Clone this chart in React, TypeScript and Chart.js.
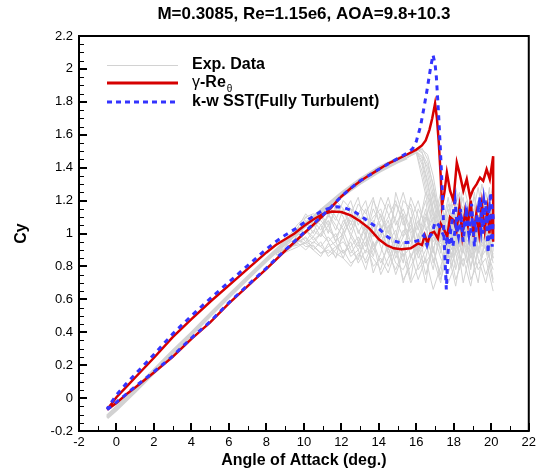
import React, { useEffect, useRef } from "react";
import { Chart, registerables } from "chart.js";

Chart.register(...registerables);

const titleText = "M=0.3085, Re=1.15e6, AOA=9.8+10.3";
const xAxisTitle = "Angle of Attack (deg.)";
const yAxisTitle = "Cy";
const legendExp = "Exp. Data";
const legendGammaMain = "-Re";
const legendGammaSym = "γ";
const legendGammaSub = "θ";
const legendSst = "k-w SST(Fully Turbulent)";

const xTicks = [-2, 0, 2, 4, 6, 8, 10, 12, 14, 16, 18, 20, 22];
const yTicks = [-0.2, 0, 0.2, 0.4, 0.6, 0.8, 1, 1.2, 1.4, 1.6, 1.8, 2, 2.2];

// γ-Reθ : [alpha, Cy]
const gammaCurve = [
  [-0.5, -0.07], [0, -0.03], [0.6, 0.03], [1, 0.065], [2, 0.155], [3, 0.25], [4, 0.36], [5, 0.46],
  [6, 0.575], [7, 0.68], [8, 0.785], [9, 0.895], [10, 1.0], [11, 1.105], [11.5, 1.163], [12, 1.225],
  [12.5, 1.275], [13, 1.318], [13.5, 1.355], [14, 1.39], [14.5, 1.425], [15, 1.452], [15.5, 1.48],
  [16, 1.51], [16.3, 1.535], [16.5, 1.565], [16.7, 1.63], [16.85, 1.7], [17.0, 1.79], [17.1, 1.7],
  [17.2, 1.55], [17.3, 1.35], [17.37, 1.17], [17.5, 1.25], [17.63, 1.37], [17.8, 1.26], [17.98, 1.2],
  [18.16, 1.43], [18.34, 1.35], [18.51, 1.26], [18.69, 1.33], [18.87, 1.22], [19.04, 1.27], [19.22, 1.3],
  [19.4, 1.34], [19.57, 1.32], [19.75, 1.39], [19.92, 1.33], [20.1, 1.47],
  [20.1, 0.95], [20.0, 1.12], [19.9, 1.0], [19.8, 1.15], [19.65, 1.02], [19.5, 1.18], [19.35, 1.0],
  [19.2, 1.12], [19.05, 0.98], [18.9, 1.2], [18.75, 1.05], [18.6, 1.13], [18.45, 0.99], [18.3, 1.16],
  [18.15, 1.02], [18.0, 1.08], [17.8, 1.1], [17.65, 0.98], [17.5, 1.02], [17.3, 1.06], [17.15, 0.97],
  [16.95, 1.01], [16.75, 1.0], [16.6, 0.94], [16.45, 0.99], [16.3, 0.93], [16.1, 0.94], [15.7, 0.91],
  [15.2, 0.905], [14.8, 0.91], [14.4, 0.93], [14.0, 0.965], [13.5, 1.03], [13.0, 1.075], [12.5, 1.11],
  [12.0, 1.13], [11.5, 1.133], [11.0, 1.118], [10.5, 1.085], [10.0, 1.045], [9.5, 1.0], [9.0, 0.965],
  [8.5, 0.93], [8.0, 0.885], [7.0, 0.785], [6.0, 0.685], [5.0, 0.585], [4.0, 0.48], [3.0, 0.37],
  [2.0, 0.245], [1.0, 0.125], [0.5, 0.065], [0, 0.005], [-0.5, -0.07],
];

// k-w SST : [alpha, Cy]
const sstCurve = [
  [-0.5, -0.07], [0, -0.025], [1, 0.07], [2, 0.16], [3, 0.255], [4, 0.365], [5, 0.465], [6, 0.58],
  [7, 0.685], [8, 0.79], [9, 0.9], [10, 1.005], [11, 1.11], [12, 1.225], [12.5, 1.275], [13, 1.32],
  [14, 1.39], [14.5, 1.423], [15, 1.455], [15.5, 1.488], [15.8, 1.515], [16.0, 1.56], [16.22, 1.65],
  [16.4, 1.76], [16.57, 1.87], [16.75, 2.0], [16.89, 2.085], [17.0, 2.03], [17.07, 1.95], [17.19, 1.72],
  [17.28, 1.52], [17.37, 1.3], [17.45, 1.06], [17.54, 0.82], [17.6, 0.66], [17.7, 0.9], [17.89, 1.06],
  [18.07, 1.2], [18.2, 1.0], [18.35, 1.15], [18.5, 0.95], [18.65, 1.12], [18.8, 1.0], [18.95, 1.18],
  [19.1, 0.92], [19.25, 1.1], [19.4, 1.22], [19.55, 1.0], [19.7, 1.2], [19.83, 0.88], [19.95, 1.25],
  [20.1, 1.1],
  [20.05, 0.92], [19.9, 1.15], [19.75, 1.05], [19.6, 1.2], [19.45, 1.02], [19.3, 1.15], [19.15, 1.05],
  [19.0, 1.1], [18.85, 0.98], [18.7, 1.12], [18.55, 1.05], [18.4, 1.1], [18.25, 0.98], [18.1, 1.05],
  [17.95, 0.92], [17.8, 1.02], [17.6, 0.95], [17.4, 1.0], [17.2, 1.05], [17.0, 1.07], [16.85, 1.0],
  [16.7, 0.98], [16.57, 0.93], [16.4, 0.99], [16.2, 0.96], [15.87, 0.95], [15.5, 0.945], [15.16, 0.944],
  [14.8, 0.955], [14.46, 0.98], [14.0, 1.03], [13.57, 1.062], [13.0, 1.11], [12.69, 1.133], [12.2, 1.155],
  [11.81, 1.163], [11.4, 1.155], [11.0, 1.14], [10.5, 1.105], [10.0, 1.065], [9.5, 1.025], [9.0, 0.99],
  [8.5, 0.95], [8.0, 0.905], [7.0, 0.805], [6.0, 0.705], [5.0, 0.605], [4.0, 0.5], [3.0, 0.39],
  [2.0, 0.265], [1.0, 0.145], [0.5, 0.085], [0, 0.02], [-0.5, -0.065],
];

// Experimental data: attached upstroke
const expUpAlpha = [-0.5, 0, 1, 2, 3, 4, 5, 6, 7, 8, 9, 10, 11, 12, 13, 14, 15, 15.5];
const expUpCyA = [-0.12, -0.07, 0.04, 0.155, 0.27, 0.385, 0.5, 0.615, 0.725, 0.835, 0.94, 1.04, 1.135, 1.225, 1.305, 1.375, 1.435, 1.46];
const expUpCyB = [-0.11, -0.055, 0.055, 0.17, 0.285, 0.395, 0.51, 0.625, 0.735, 0.845, 0.95, 1.05, 1.15, 1.245, 1.33, 1.4, 1.455, 1.48];

// Experimental data: stall and post-stall upstroke
const expStallAlpha = [15.5, 16.0, 16.3, 16.6, 16.9, 17.2, 17.5, 17.9, 18.3, 18.7, 19.1, 19.5, 19.9, 20.1];
const expStall1 = [1.46, 1.49, 1.34, 1.18, 1.03, 0.95, 0.92, 1.05, 0.88, 1.12, 0.95, 1.2, 0.9, 1.05];
const expStall2 = [1.47, 1.5, 1.42, 1.26, 1.1, 0.98, 1.05, 0.9, 1.15, 0.98, 1.25, 0.85, 1.1, 0.95];
const expStall3 = [1.47, 1.51, 1.5, 1.36, 1.2, 1.04, 0.96, 1.18, 1.0, 0.82, 1.08, 1.0, 1.28, 0.9];
const expStall4 = [1.48, 1.51, 1.52, 1.45, 1.28, 1.1, 1.0, 0.86, 1.1, 1.2, 0.9, 1.12, 0.95, 1.2];
const expStall5 = [1.46, 1.5, 1.46, 1.32, 1.15, 1.02, 1.12, 0.98, 0.78, 1.05, 1.15, 0.92, 1.0, 0.85];
const expStall6 = [1.47, 1.51, 1.51, 1.48, 1.35, 1.15, 1.0, 1.1, 1.25, 0.95, 1.02, 1.3, 1.05, 1.15];
const expStall7 = [1.46, 1.49, 1.38, 1.22, 1.06, 0.96, 1.08, 0.85, 1.05, 1.15, 0.88, 1.05, 1.2, 0.98];
const expStall8 = [1.47, 1.5, 1.47, 1.4, 1.24, 1.06, 0.9, 1.12, 0.92, 1.08, 1.22, 0.95, 0.85, 1.1];
const expStall9 = [1.47, 1.51, 1.49, 1.42, 1.3, 1.12, 0.98, 0.8, 1.02, 0.9, 0.98, 1.08, 1.15, 1.0];
const expStall10 = [1.46, 1.5, 1.44, 1.3, 1.12, 1.0, 0.94, 1.02, 1.2, 1.1, 0.8, 0.98, 0.92, 1.25];

// Experimental data: separated downstroke cycles
const expDownAlpha = [20.1, 19.7, 19.3, 18.9, 18.5, 18.1, 17.7, 17.3, 16.9, 16.5, 16.1, 15.7, 15.3, 14.9, 14.5, 14.1, 13.7, 13.3, 12.9, 12.5, 12.1, 11.7, 11.3, 10.9, 10.5, 10.1, 9.7, 9.3, 8.9, 8.5];
const expDown1 = [0.95, 1.1, 0.88, 1.05, 0.92, 1.18, 0.85, 1.02, 0.95, 1.1, 0.9, 1.05, 0.98, 0.88, 1.02, 0.95, 1.08, 0.92, 1.02, 1.1, 0.98, 1.05, 1.12, 1.02, 1.08, 1.0, 1.04, 0.96, 0.93, 0.89];
const expDown2 = [1.2, 0.9, 1.05, 0.78, 1.12, 0.95, 1.22, 0.98, 0.82, 1.05, 1.15, 0.92, 0.86, 1.02, 0.95, 1.12, 0.98, 1.05, 0.92, 1.0, 1.08, 0.95, 1.05, 0.98, 1.02, 0.95, 1.0, 0.93, 0.9, 0.88];
const expDown3 = [0.72, 0.98, 1.15, 0.9, 0.7, 1.02, 0.88, 1.25, 1.05, 0.85, 0.78, 1.0, 1.12, 0.95, 0.8, 0.92, 1.05, 0.88, 0.98, 0.92, 0.88, 1.0, 0.95, 1.05, 0.98, 1.02, 0.97, 0.95, 0.91, 0.88];
const expDown4 = [1.05, 1.25, 0.95, 1.12, 1.3, 0.92, 1.05, 0.88, 1.15, 1.25, 1.02, 1.18, 1.05, 1.2, 1.1, 1.02, 1.22, 1.12, 1.18, 1.05, 1.15, 1.2, 1.1, 1.05, 1.1, 1.06, 1.02, 0.98, 0.94, 0.9];
const expDown5 = [0.88, 0.75, 0.92, 0.68, 0.85, 0.72, 0.95, 0.8, 0.66, 0.85, 0.72, 0.88, 0.78, 0.82, 0.95, 0.78, 0.85, 0.9, 0.82, 0.95, 0.88, 0.92, 0.98, 0.92, 0.95, 0.9, 0.94, 0.92, 0.9, 0.88];
const expDown6 = [1.15, 1.0, 1.28, 1.05, 0.95, 1.12, 1.0, 1.08, 1.2, 0.95, 1.1, 1.22, 0.98, 1.08, 1.18, 1.0, 0.92, 1.15, 1.05, 1.2, 1.12, 1.15, 1.05, 1.12, 1.0, 1.08, 0.99, 0.97, 0.92, 0.89];
const expDown7 = [0.65, 0.85, 0.78, 0.95, 1.05, 0.82, 0.7, 0.92, 0.98, 0.7, 0.9, 0.8, 0.72, 0.9, 0.76, 0.85, 0.8, 0.95, 0.86, 0.82, 0.9, 0.86, 0.9, 0.88, 0.92, 0.95, 0.92, 0.9, 0.88, 0.87];
const expDown8 = [1.3, 1.08, 1.0, 1.2, 1.08, 1.28, 1.12, 0.95, 1.1, 1.02, 1.2, 1.08, 1.25, 1.1, 1.0, 1.15, 1.1, 1.02, 1.22, 1.12, 1.02, 1.1, 1.18, 1.1, 1.12, 1.1, 1.06, 1.0, 0.95, 0.9];
const expDown9 = [0.82, 1.02, 0.7, 0.88, 0.98, 0.78, 1.1, 0.75, 0.9, 0.82, 1.0, 0.72, 0.95, 0.85, 1.05, 0.88, 0.76, 0.98, 0.9, 0.86, 0.98, 0.9, 0.86, 0.95, 0.9, 0.98, 0.95, 0.92, 0.9, 0.88];
const expDown10 = [1.0, 1.18, 1.1, 0.85, 1.22, 1.05, 0.92, 1.15, 0.88, 1.15, 0.98, 0.85, 1.1, 1.25, 0.9, 1.05, 1.15, 0.98, 1.1, 1.15, 1.05, 0.98, 1.02, 1.08, 1.04, 1.0, 1.02, 0.96, 0.93, 0.9];
const expDown11 = [1.1, 0.95, 1.02, 1.15, 0.88, 1.0, 1.18, 0.9, 1.05, 0.92, 1.08, 0.95, 1.02, 0.9, 1.08, 0.98, 0.9, 1.05, 0.95, 1.08, 1.0, 0.95, 1.08, 1.0, 0.96, 1.02, 0.98, 0.95, 0.92, 0.89];
const expDown12 = [0.78, 0.92, 1.08, 1.0, 0.8, 0.95, 0.82, 1.05, 0.78, 0.95, 0.85, 1.08, 0.9, 0.78, 0.88, 1.0, 0.9, 0.82, 0.95, 0.88, 0.95, 0.92, 0.88, 0.92, 0.98, 0.94, 0.96, 0.93, 0.9, 0.88];
const expDown13 = [1.25, 1.12, 0.9, 1.22, 1.0, 1.15, 0.98, 1.2, 1.02, 1.12, 0.95, 1.15, 1.2, 0.98, 1.12, 1.22, 1.05, 1.1, 1.0, 1.15, 1.2, 1.08, 1.15, 1.15, 1.06, 1.12, 1.04, 0.99, 0.94, 0.9];
const expDown14 = [0.9, 0.7, 0.85, 1.1, 0.95, 0.68, 0.88, 0.72, 0.92, 0.75, 0.95, 0.85, 0.7, 0.95, 0.85, 0.75, 0.95, 0.84, 0.88, 0.8, 0.85, 0.95, 0.92, 0.88, 0.93, 0.92, 0.96, 0.91, 0.89, 0.87];
const expDown15 = [1.05, 1.2, 0.98, 0.92, 1.1, 1.2, 0.95, 1.1, 1.25, 1.08, 0.92, 1.02, 1.15, 1.05, 1.22, 1.08, 1.0, 1.2, 1.12, 0.98, 1.1, 1.18, 1.0, 1.12, 1.08, 1.04, 1.0, 0.98, 0.94, 0.9];
const expDown16 = [0.7, 0.9, 0.82, 0.72, 0.98, 0.88, 0.76, 0.85, 1.0, 0.9, 0.8, 0.7, 0.88, 0.75, 0.92, 0.82, 0.95, 0.78, 0.9, 0.98, 0.85, 0.88, 0.94, 0.86, 0.9, 0.94, 0.93, 0.92, 0.9, 0.88];
const expDown17 = [1.15, 0.98, 1.2, 1.1, 1.0, 0.88, 1.15, 1.05, 0.9, 1.2, 1.05, 0.95, 1.08, 1.18, 1.0, 1.1, 1.2, 1.0, 1.12, 1.02, 1.15, 1.02, 1.12, 0.98, 1.06, 1.1, 1.0, 0.97, 0.93, 0.89];
const expDown18 = [0.85, 1.05, 0.95, 0.8, 1.02, 0.9, 1.0, 0.7, 0.85, 0.98, 0.88, 1.1, 0.82, 0.98, 0.88, 1.05, 0.86, 1.0, 0.84, 0.9, 1.02, 0.85, 0.95, 1.0, 0.94, 0.97, 0.95, 0.93, 0.9, 0.88];

const FONT = '"Liberation Sans", Arial, Helvetica, sans-serif';
const GRAY = "rgb(210,210,210)";
const RED = "rgb(214,0,0)";
const BLUE = "rgb(51,51,255)";

function pts(xs: number[], ys: number[]) {
  return xs.map((x, i) => ({ x, y: ys[i] }));
}
function pairPts(p: number[][]) {
  return p.map(([x, y]) => ({ x, y }));
}

const decorPlugin = {
  id: "decor",
  afterDraw(chart: any) {
    const ctx = chart.ctx as CanvasRenderingContext2D;
    const ca = chart.chartArea;
    const xs = chart.scales.x;
    const ys = chart.scales.y;
    ctx.save();
    ctx.strokeStyle = "#000";
    for (let i = 0; i < xTicks.length; i++) {
      const px = Math.round(xs.getPixelForValue(xTicks[i]));
      ctx.lineWidth = 2;
      ctx.beginPath();
      ctx.moveTo(px, ca.bottom);
      ctx.lineTo(px, ca.bottom - 8);
      ctx.stroke();
      if (i < xTicks.length - 1) {
        const mid = Math.round(xs.getPixelForValue((xTicks[i] + xTicks[i + 1]) / 2)) + 0.5;
        ctx.lineWidth = 1;
        ctx.beginPath();
        ctx.moveTo(mid, ca.bottom);
        ctx.lineTo(mid, ca.bottom - 5);
        ctx.stroke();
      }
    }
    for (let i = 0; i < yTicks.length; i++) {
      const py = Math.round(ys.getPixelForValue(yTicks[i]));
      ctx.lineWidth = 2;
      ctx.beginPath();
      ctx.moveTo(ca.left, py);
      ctx.lineTo(ca.left + 8, py);
      ctx.stroke();
      if (i < yTicks.length - 1) {
        for (let k = 1; k < 4; k++) {
          const v = yTicks[i] + ((yTicks[i + 1] - yTicks[i]) * k) / 4;
          const my = Math.round(ys.getPixelForValue(v)) + 0.5;
          ctx.lineWidth = 1;
          ctx.beginPath();
          ctx.moveTo(ca.left, my);
          ctx.lineTo(ca.left + 5, my);
          ctx.stroke();
        }
      }
    }
    ctx.lineWidth = 2;
    ctx.strokeRect(ca.left, ca.top, ca.right - ca.left, ca.bottom - ca.top);

    ctx.fillStyle = "#000";
    ctx.textBaseline = "middle";
    ctx.textAlign = "center";
    ctx.font = `bold 17px ${FONT}`;
    ctx.fillText(titleText, (ca.left + ca.right) / 2, 14);

    ctx.font = `bold 16px ${FONT}`;
    ctx.fillText(xAxisTitle, (ca.left + ca.right) / 2, 461);
    ctx.save();
    ctx.translate(22, (ca.top + ca.bottom) / 2);
    ctx.rotate(-Math.PI / 2);
    ctx.fillText(yAxisTitle, 0, 0);
    ctx.restore();

    const lx0 = 107, lx1 = 178, tx = 192;
    const rows = [65, 83, 102];
    ctx.lineCap = "butt";
    ctx.strokeStyle = GRAY;
    ctx.lineWidth = 1;
    ctx.beginPath();
    ctx.moveTo(lx0, rows[0] + 0.5);
    ctx.lineTo(lx1, rows[0] + 0.5);
    ctx.stroke();
    ctx.strokeStyle = RED;
    ctx.lineWidth = 3;
    ctx.beginPath();
    ctx.moveTo(lx0, rows[1]);
    ctx.lineTo(lx1, rows[1]);
    ctx.stroke();
    ctx.strokeStyle = BLUE;
    ctx.lineWidth = 3;
    ctx.setLineDash([5, 4]);
    ctx.beginPath();
    ctx.moveTo(lx0, rows[2]);
    ctx.lineTo(lx1, rows[2]);
    ctx.stroke();
    ctx.setLineDash([]);

    ctx.textAlign = "left";
    ctx.fillStyle = "#000";
    ctx.font = `bold 16px ${FONT}`;
    ctx.fillText(legendExp, tx, rows[0]);
    ctx.font = `16px ${FONT}`;
    ctx.fillText(legendGammaSym, tx, rows[1]);
    let w = ctx.measureText(legendGammaSym).width;
    ctx.font = `bold 16px ${FONT}`;
    ctx.fillText(legendGammaMain, tx + w, rows[1]);
    w += ctx.measureText(legendGammaMain).width;
    ctx.font = `10px ${FONT}`;
    ctx.fillText(legendGammaSub, tx + w + 1, rows[1] + 6);
    ctx.font = `bold 16px ${FONT}`;
    ctx.fillText(legendSst, tx, rows[2]);
    ctx.restore();
  },
};

export default function App() {
  const ref = useRef<HTMLCanvasElement>(null);
  useEffect(() => {
    if (!ref.current) return;
    const expDatasets: any[] = [];
    const thin = { borderColor: GRAY, borderWidth: 1, pointRadius: 0, showLine: true, fill: false, tension: 0, order: 3 };
    [expUpCyA, expUpCyB].forEach((cy) => {
      expDatasets.push({ ...thin, borderWidth: 3, data: pts(expUpAlpha, cy) });
    });
    [expStall1, expStall2, expStall3, expStall4, expStall5, expStall6, expStall7, expStall8, expStall9, expStall10].forEach((cy) => {
      expDatasets.push({ ...thin, data: pts(expStallAlpha, cy) });
    });
    [
      expDown1, expDown2, expDown3, expDown4, expDown5, expDown6, expDown7, expDown8, expDown9,
      expDown10, expDown11, expDown12, expDown13, expDown14, expDown15, expDown16, expDown17, expDown18,
    ].forEach((cy) => {
      expDatasets.push({ ...thin, data: pts(expDownAlpha, cy) });
    });

    const chart = new Chart(ref.current, {
      type: "scatter",
      data: {
        datasets: [
          ...expDatasets,
          {
            label: "gamma",
            data: pairPts(gammaCurve),
            borderColor: RED,
            borderWidth: 2.5,
            pointRadius: 0,
            showLine: true,
            tension: 0,
            order: 2,
          },
          {
            label: "sst",
            data: pairPts(sstCurve),
            borderColor: BLUE,
            borderWidth: 3,
            borderDash: [5, 5],
            pointRadius: 0,
            showLine: true,
            tension: 0,
            order: 1,
          },
        ],
      },
      options: {
        animation: false,
        responsive: false,
        maintainAspectRatio: false,
        devicePixelRatio: 1,
        layout: { padding: { top: 36, right: 7, left: 0, bottom: 0 } },
        plugins: {
          legend: { display: false },
          title: { display: false },
          tooltip: { enabled: false },
        },
        scales: {
          x: {
            type: "linear",
            min: -2,
            max: 22,
            afterBuildTicks: (s: any) => {
              s.ticks = xTicks.map((v) => ({ value: v }));
            },
            afterFit: (s: any) => {
              s.height = 39;
            },
            grid: { display: false, drawTicks: false },
            border: { display: false },
            ticks: {
              color: "#000",
              font: { family: FONT, size: 13 },
              padding: 4,
              autoSkip: false,
              maxRotation: 0,
              callback: (v: any) => String(v),
            },
          },
          y: {
            type: "linear",
            min: -0.2,
            max: 2.2,
            afterBuildTicks: (s: any) => {
              s.ticks = yTicks.map((v) => ({ value: v }));
            },
            afterFit: (s: any) => {
              s.width = 79;
            },
            grid: { display: false, drawTicks: false },
            border: { display: false },
            ticks: {
              color: "#000",
              font: { family: FONT, size: 13 },
              padding: 6,
              autoSkip: false,
              callback: (v: any) => String(v),
            },
          },
        },
      },
      plugins: [decorPlugin],
    } as any);
    return () => chart.destroy();
  }, []);

  return (
    <div style={{ position: "fixed", left: 0, top: 0, width: 540, height: 470, background: "#fff" }}>
      <canvas ref={ref} width={540} height={470} style={{ display: "block", width: 540, height: 470 }} />
    </div>
  );
}
